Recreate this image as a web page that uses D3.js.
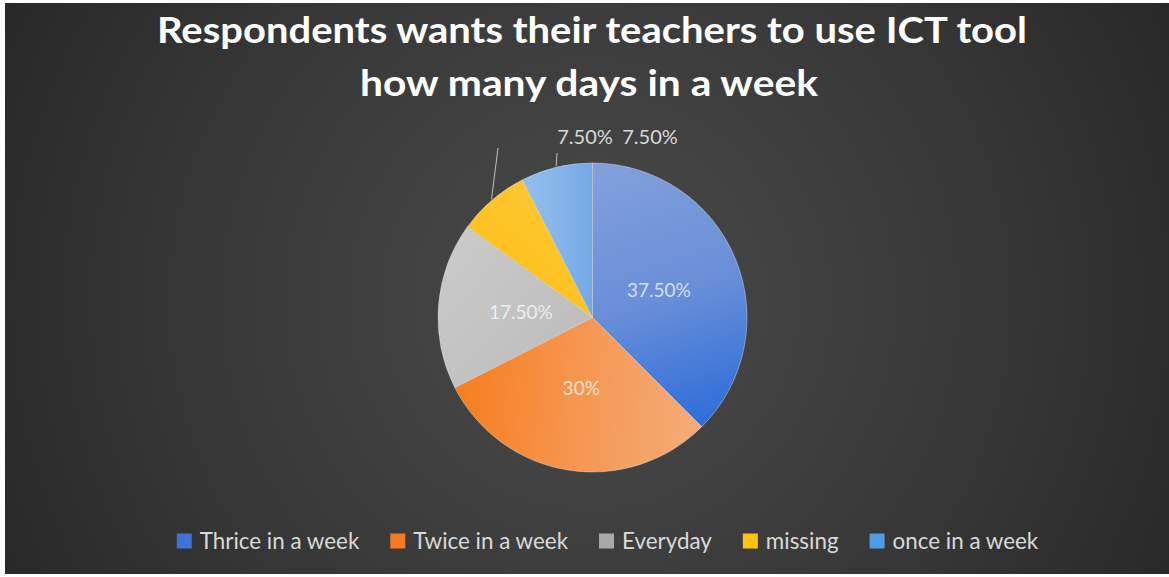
<!DOCTYPE html>
<html>
<head>
<meta charset="utf-8">
<script src="https://cdn.jsdelivr.net/npm/d3@7"></script>
<style>
  html, body { margin: 0; padding: 0; background: #ffffff; }
  svg { display: block; }
</style>
</head>
<body>
<svg id="chart" width="1169" height="577"></svg>
<script>
// Survey answers: how many days a week teachers should use ICT tools
const categories = ["Thrice in a week", "Twice in a week", "Everyday", "missing", "once in a week"];
const shares = [37.5, 30, 17.5, 7.5, 7.5];
const shareLabels = ["37.50%", "30%", "17.50%", "7.50%", "7.50%"];
const titleLines = ["Respondents wants their teachers to use ICT tool", "how many days in a week"];

// Slice fills: [start, middle, end] of each slice's gradient, plus the legend swatch
const sliceStops = [
  ["#82a0db", "#6a8fd8", "#2a6bd8"],
  ["#f77d1c", "#f59650", "#f4ac78"],
  ["#c9c9c9", "#c2c2c2", "#b9b9b9"],
  ["#ffc21c", "#fcc52c", "#f5ca45"],
  ["#95c1ef", "#88b6ea", "#74a8e5"]
];
const swatchColors = ["#3f72d6", "#f47b23", "#a9a9a9", "#ffc20e", "#4e9be6"];

const W = 1169, H = 577;
const svg = d3.select("#chart");
const defs = svg.append("defs");

// Panel background: dark with a soft lighter centre
const bg = defs.append("radialGradient")
  .attr("id", "bg").attr("gradientUnits", "userSpaceOnUse")
  .attr("cx", 590).attr("cy", 300).attr("r", 660);
bg.append("stop").attr("offset", 0).attr("stop-color", "#4a4a4a");
bg.append("stop").attr("offset", 0.55).attr("stop-color", "#393939");
bg.append("stop").attr("offset", 1).attr("stop-color", "#282828");

svg.append("rect")
  .attr("x", 5).attr("y", 3).attr("width", W - 5).attr("height", H - 6)
  .attr("fill", "url(#bg)");

// Title
const title = svg.append("text")
  .attr("text-anchor", "middle")
  .attr("fill", "#ffffff")
  .style("font-family", "Lato, 'Open Sans', sans-serif")
  .style("font-weight", 700)
  .style("font-size", "37px");
title.append("tspan").attr("x", 592).attr("y", 43)
  .attr("textLength", 870).attr("lengthAdjust", "spacingAndGlyphs")
  .text(titleLines[0]);
title.append("tspan").attr("x", 589).attr("y", 96)
  .attr("textLength", 458).attr("lengthAdjust", "spacingAndGlyphs")
  .text(titleLines[1]);

// Pie
const cx = 592.5, cy = 317.5, r = 154.5;
const pieData = d3.pie().sort(null).value(d => d)(shares);
const arc = d3.arc().innerRadius(0).outerRadius(r);

// Gradient direction per slice, in pie-centred coordinates (fractions of r)
const gradDirs = [
  [0.0, -1.0, 0.6, 0.8],
  [-0.9, 0.5, 0.7, 0.6],
  [-1.0, -0.4, 0.0, 0.5],
  [-0.7, -0.4, -0.2, -1.0],
  [-0.5, -0.9, 0.0, -0.9]
];
sliceStops.forEach((stops, i) => {
  const g = defs.append("linearGradient")
    .attr("id", "slice" + i).attr("gradientUnits", "userSpaceOnUse")
    .attr("x1", gradDirs[i][0] * r).attr("y1", gradDirs[i][1] * r)
    .attr("x2", gradDirs[i][2] * r).attr("y2", gradDirs[i][3] * r);
  stops.forEach((c, k) => g.append("stop").attr("offset", k / (stops.length - 1)).attr("stop-color", c));
});

const pieG = svg.append("g").attr("transform", `translate(${cx},${cy})`);

pieG.selectAll("path.slice")
  .data(pieData)
  .join("path")
  .attr("class", "slice")
  .attr("d", arc)
  .attr("fill", (d, i) => `url(#slice${i})`)
  .attr("stroke", "#e6e6e6")
  .attr("stroke-opacity", 0.55)
  .attr("stroke-width", 0.8);

// Labels inside the three large slices
const inner = d3.arc().innerRadius(r * 0.93).outerRadius(0);
const labelFont = "Lato, 'Open Sans', sans-serif";
pieG.selectAll("text.inlabel")
  .data(pieData.slice(0, 3))
  .join("text")
  .attr("class", "inlabel")
  .attr("transform", d => `translate(${inner.centroid(d)})`)
  .attr("text-anchor", "middle")
  .attr("dy", "0.35em")
  .attr("fill", "#ffffff")
  .attr("fill-opacity", 0.72)
  .style("font-family", labelFont)
  .style("font-size", "19px")
  .text((d, i) => shareLabels[i]);

// The two thin slices get labels above the pie with leader lines
const outerLayout = [
  { idx: 3, label: [57.5, -181], lineTop: [-94.5, -169.5] },
  { idx: 4, label: [-7.5, -181], lineTop: [-35.5, -164.5] }
];
outerLayout.forEach(o => {
  const d = pieData[o.idx];
  const mid = (d.startAngle + d.endAngle) / 2;
  const edge = [Math.sin(mid) * (r + 1), -Math.cos(mid) * (r + 1)];
  pieG.append("line")
    .attr("x1", o.lineTop[0]).attr("y1", o.lineTop[1])
    .attr("x2", edge[0]).attr("y2", edge[1])
    .attr("stroke", "#bfbfbf").attr("stroke-width", 1);
  pieG.append("text")
    .attr("x", o.label[0]).attr("y", o.label[1])
    .attr("text-anchor", "middle")
    .attr("dy", "0.35em")
    .attr("fill", "#d9d9d9")
    .style("font-family", labelFont)
    .style("font-size", "20px")
    .text(shareLabels[o.idx]);
});

// Legend, centred along the bottom
const legend = svg.append("g");
const sw = 15, swGap = 8, itemGap = 31, legendY = 541;
const items = legend.selectAll("g.item")
  .data(categories)
  .join("g")
  .attr("class", "item");
items.append("rect")
  .attr("width", sw).attr("height", sw)
  .attr("y", legendY - sw / 2)
  .attr("fill", (d, i) => swatchColors[i]);
items.append("text")
  .attr("x", sw + swGap)
  .attr("y", legendY)
  .attr("dy", "0.35em")
  .attr("fill", "#d9d9d9")
  .style("font-family", labelFont)
  .style("font-size", "22.4px")
  .text(d => d);
const widths = [];
items.each(function () {
  widths.push(sw + swGap + d3.select(this).select("text").node().getComputedTextLength());
});
const total = d3.sum(widths) + itemGap * (widths.length - 1);
let xPos = 607.5 - total / 2;
items.attr("transform", (d, i) => {
  const t = `translate(${xPos},0)`;
  xPos += widths[i] + itemGap;
  return t;
});
</script>
</body>
</html>
